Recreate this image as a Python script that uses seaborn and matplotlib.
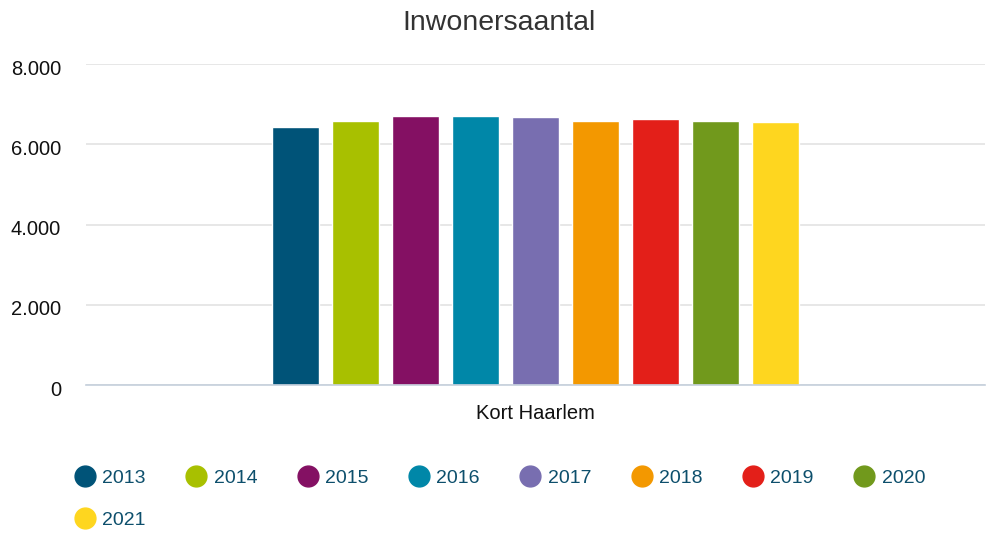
import matplotlib
matplotlib.use("Agg")
import matplotlib.pyplot as plt
import matplotlib.transforms as mtransforms
from matplotlib.lines import Line2D
import seaborn as sns
import pandas as pd

regions = ["Kort Haarlem"]
years = ["2013", "2014", "2015", "2016", "2017", "2018", "2019", "2020", "2021"]
values = [6425, 6575, 6700, 6700, 6675, 6575, 6625, 6575, 6550]
colors = ["#005378", "#a8c000", "#841063", "#0087a8", "#786eb0",
          "#f39800", "#e31f19", "#71991c", "#fed61f"]
yticks = [0, 2000, 4000, 6000, 8000]
ytick_labels = ["0", "2.000", "4.000", "6.000", "8.000"]
title = "Inwonersaantal"

df = pd.DataFrame({"region": regions * len(years), "year": years, "value": values})

sns.set_theme(style="white")
plt.rcParams["font.family"] = ["Liberation Sans", "DejaVu Sans"]

W, H = 997, 539
fig = plt.figure(figsize=(W / 100, H / 100), dpi=100)
ax = fig.add_axes([86 / W, (H - 385) / H, (985 - 86) / W, (385 - 64) / H])

sns.barplot(data=df, x="region", y="value", hue="year", palette=colors,
            width=0.6, gap=0.22, saturation=1, legend=False, ax=ax, errorbar=None)

ax.set_xlim(-0.5, 0.5)
ax.set_ylim(0, 8000)
ax.set_yticks(yticks)
ax.set_yticklabels(ytick_labels)
ax.set_xlabel("")
ax.set_ylabel("")
ax.grid(axis="y", color="#e3e3e3", linewidth=1.2)
ax.set_axisbelow(True)
for s in ["top", "right", "left"]:
    ax.spines[s].set_visible(False)
ax.spines["bottom"].set_color("#c5cfdc")
ax.spines["bottom"].set_linewidth(1.2)
ax.tick_params(axis="y", length=0, pad=18, labelsize=14.5, labelcolor="#111111")
ax.tick_params(axis="x", length=0, pad=13.5, labelsize=14.5, labelcolor="#111111")
offset = mtransforms.ScaledTranslation(0, -3 / 100, fig.dpi_scale_trans)
for lbl in ax.get_yticklabels():
    lbl.set_transform(lbl.get_transform() + offset)

fig.text(0.5, 1 - 23 / H, title, ha="center", va="center", fontsize=20.5, color="#333333")

handles = [Line2D([0], [0], marker="o", linestyle="none", markersize=15,
                  markerfacecolor=c, markeredgecolor=c) for c in colors]
# reorder so matplotlib's column-major fill gives row-major layout
order = [0, 8, 1, 2, 3, 4, 5, 6, 7]
leg = fig.legend([handles[i] for i in order], [years[i] for i in order],
                 ncol=8, loc="upper left", bbox_to_anchor=(73 / W, 1 - 469 / H),
                 frameon=False, fontsize=14, handletextpad=0.3, columnspacing=1.99,
                 labelspacing=1.27, handlelength=1.2, borderaxespad=0, borderpad=0)
for t in leg.get_texts():
    t.set_color("#0d4f6c")

fig.savefig("out.png", dpi=100)
